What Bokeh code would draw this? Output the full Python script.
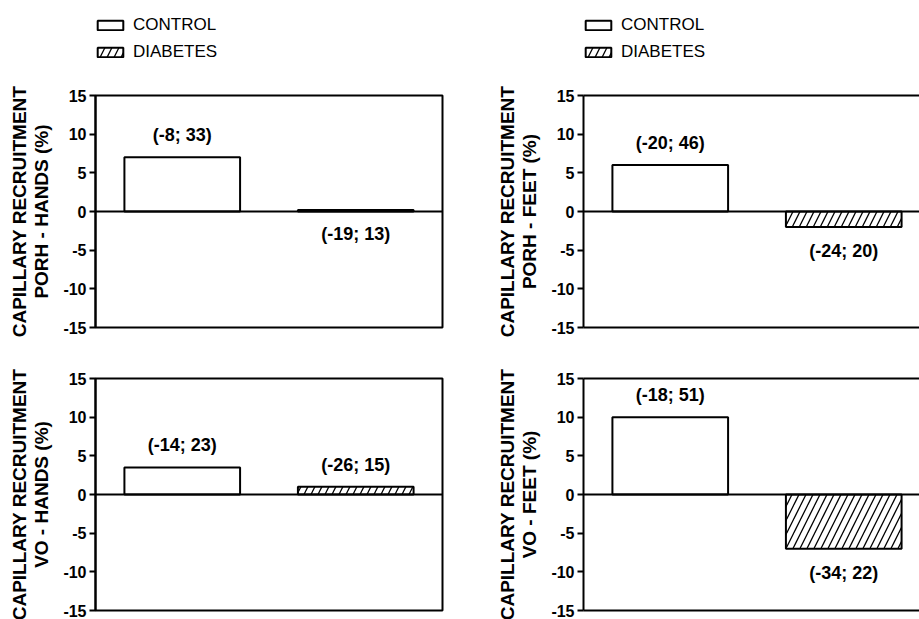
from bokeh.plotting import figure
from bokeh.models import (ColumnDataSource, Range1d, FixedTicker, Span, Legend,
                          LegendItem, LinearAxis)
from bokeh.layouts import column, row
from bokeh.embed import file_html
from bokeh.resources import INLINE
from bokeh.core.properties import value, field

# ---------------- data ----------------
groups = ["CONTROL", "DIABETES"]
y_ticks = [-15, -10, -5, 0, 5, 10, 15]

porh_hands = [7.0, 0.2]
porh_hands_ci = ["(-8; 33)", "(-19; 13)"]

porh_feet = [6.0, -2.0]
porh_feet_ci = ["(-20; 46)", "(-24; 20)"]

vo_hands = [3.5, 1.0]
vo_hands_ci = ["(-14; 23)", "(-26; 15)"]

vo_feet = [10.0, -7.0]
vo_feet_ci = ["(-18; 51)", "(-34; 22)"]

# ---------------- style ----------------
FONT = "Liberation Sans"
HATCH = [" ", "/"]
BAR_STYLE = dict(fill_color="white", line_color="black", line_width=2,
                 hatch_pattern=field("hatch"), hatch_color="black",
                 hatch_scale=14, hatch_weight=1.3)


def make_source(vals, cis, sides):
    return ColumnDataSource(dict(
        x=[i + 0.5 for i in range(len(groups))],
        top=vals,
        hatch=HATCH,
        label=cis,
        yoff=[-22 if s > 0 else 24 for s in sides],
    ))


def edge_axis(p, side):
    a = LinearAxis(ticker=FixedTicker(ticks=[]), axis_line_width=2,
                   axis_line_color="black", major_tick_out=0, major_tick_in=0,
                   minor_tick_out=0, minor_tick_in=0,
                   major_label_text_font_size="0px")
    p.add_layout(a, side)


def panel(src, sub, width, height, b_top, b_bottom, b_right, x_end, left_col):
    p = figure(width=width, height=height,
               x_range=Range1d(0, x_end), y_range=Range1d(-15, 15),
               output_backend="svg", toolbar_location=None,
               x_axis_location=None,
               min_border_left=95, min_border_right=b_right,
               min_border_top=b_top, min_border_bottom=b_bottom)
    p.grid.visible = False
    p.background_fill_color = "white"
    p.border_fill_color = "white"
    if left_col:
        p.outline_line_color = "black"
        p.outline_line_width = 2
        p.outline_line_alpha = 1.0
    else:
        p.outline_line_color = None
        edge_axis(p, "above")
        edge_axis(p, "below")

    p.vbar(x="x", top="top", bottom=0, width=2 / 3, source=src, **BAR_STYLE)
    p.add_layout(Span(location=0, dimension="width",
                      line_color="black", line_width=2))
    p.text(x="x", y="top", text="label", source=src, y_offset="yoff",
           text_align="center", text_baseline="middle",
           text_font=value(FONT), text_font_style="bold",
           text_font_size="18px", text_color="black")

    ax = p.yaxis[0]
    ax.ticker = FixedTicker(ticks=y_ticks)
    ax.major_label_overrides = {t: str(t) for t in y_ticks}
    ax.axis_label = "CAPILLARY RECRUITMENT\n" + sub
    ax.axis_label_text_font = FONT
    ax.axis_label_text_font_size = "19px"
    ax.axis_label_text_font_style = "bold"
    ax.axis_label_text_color = "black"
    ax.axis_label_text_line_height = 1.05
    ax.axis_label_standoff = 8
    ax.major_label_text_font = FONT
    ax.major_label_text_font_size = "16px"
    ax.major_label_text_font_style = "bold"
    ax.major_label_text_color = "black"
    ax.major_label_standoff = 3
    ax.major_tick_out = 6
    ax.major_tick_in = 0
    ax.minor_tick_out = 0
    ax.minor_tick_in = 0
    ax.axis_line_width = 2
    ax.major_tick_line_width = 2
    ax.axis_line_color = "black"
    ax.major_tick_line_color = "black"
    return p


def legend_fig(src, width, height):
    lp = figure(width=width, height=height,
                x_range=Range1d(0, 1), y_range=Range1d(0, 1),
                output_backend="svg", toolbar_location=None,
                x_axis_location=None, y_axis_location=None,
                min_border_left=94, min_border_top=15,
                min_border_right=0, min_border_bottom=0)
    lp.grid.visible = False
    lp.outline_line_color = None
    lp.background_fill_color = "white"
    lp.border_fill_color = "white"
    r = lp.vbar(x="x", top="top", bottom=0, width=2 / 3, source=src,
                visible=False, **BAR_STYLE)
    items = [LegendItem(label=g, renderers=[r], index=i)
             for i, g in enumerate(groups)]
    leg = Legend(items=items, location="top_left", orientation="vertical",
                 glyph_width=32, glyph_height=12, label_standoff=7,
                 label_text_font=FONT, label_text_font_size="17px",
                 label_text_color="black",
                 label_height=12, spacing=7, padding=0, margin=0,
                 border_line_color=None, background_fill_alpha=0,
                 inactive_fill_alpha=0)
    lp.add_layout(leg, "center")
    return lp


s1 = make_source(porh_hands, porh_hands_ci, [1, -1])
s2 = make_source(porh_feet, porh_feet_ci, [1, -1])
s3 = make_source(vo_hands, vo_hands_ci, [1, 1])
s4 = make_source(vo_feet, vo_feet_ci, [1, -1])

LW, RW = 488, 431
LH, TH, BH = 70, 281, 268
XR = 336 / 173.5

l1 = legend_fig(s1, LW, LH)
l2 = legend_fig(s2, RW, LH)
p1 = panel(s1, "PORH - HANDS (%)", LW, TH, 25, 24, 46, 2.0, True)
p2 = panel(s2, "PORH - FEET (%)", RW, TH, 25, 24, 0, XR, False)
p3 = panel(s3, "VO - HANDS (%)", LW, BH, 27, 9, 46, 2.0, True)
p4 = panel(s4, "VO - FEET (%)", RW, BH, 27, 9, 0, XR, False)

layout = column(row(l1, l2), row(p1, p2), row(p3, p4))
open("out.html", "w").write(file_html(layout, INLINE))
